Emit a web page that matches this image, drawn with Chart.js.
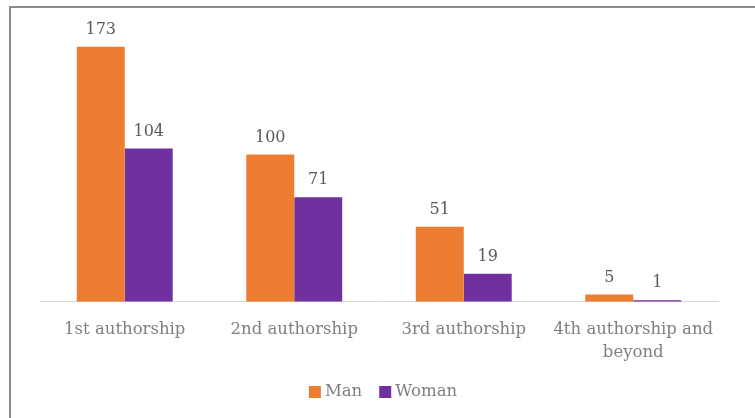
<!DOCTYPE html>
<html><head><meta charset="utf-8">
<script src="https://cdn.jsdelivr.net/npm/chart.js@4"></script>
<style>
html,body{margin:0;padding:0;background:#fff;}
#wrap{position:relative;width:755px;height:418px;overflow:hidden;}
#frame{position:absolute;left:9px;top:6px;width:800px;height:500px;border:2px solid #8a8a8a;box-sizing:border-box;}
canvas{position:absolute;left:0;top:0;}
</style></head><body>
<div id="wrap"><div id="frame"></div><canvas id="c" width="755" height="418"></canvas></div>
<script>
const categories = ["1st authorship", "2nd authorship", "3rd authorship", ["4th authorship and", "beyond"]];
const manValues = [173, 100, 51, 5];
const womanValues = [104, 71, 19, 1];
const seriesNames = ["Man", "Woman"];

const FONT = "'DejaVu Serif', 'Liberation Serif', serif";
const labelPlugin = {
  id: 'valLabels',
  afterDatasetsDraw(chart) {
    const ctx = chart.ctx;
    ctx.save();
    ctx.font = "16px " + FONT;
    ctx.fillStyle = "#595959";
    ctx.textAlign = "center";
    ctx.textBaseline = "bottom";
    chart.data.datasets.forEach((ds, i) => {
      const meta = chart.getDatasetMeta(i);
      meta.data.forEach((el, j) => {
        ctx.fillText(String(ds.data[j]), el.x, el.y - 9);
      });
    });
    ctx.restore();
  }
};

const legendPlugin = {
  id: 'customLegend',
  afterDraw(chart) {
    const ctx = chart.ctx;
    ctx.save();
    ctx.font = "16.5px " + FONT;
    ctx.textBaseline = "middle";
    const box = 12, gapText = 4, gapItem = 17;
    const items = chart.data.datasets.map(ds => ({label: ds.label, color: ds.backgroundColor, w: ctx.measureText(ds.label).width}));
    let total = 0;
    items.forEach((it, i) => { total += box + gapText + it.w + (i < items.length - 1 ? gapItem : 0); });
    const ca = chart.chartArea;
    let x = (ca.left + ca.right) / 2 + 4 - total / 2;
    const cy = 392;
    items.forEach(it => {
      ctx.fillStyle = it.color;
      ctx.fillRect(x, cy - 6, box, box);
      x += box + gapText;
      ctx.fillStyle = "#7F7F7F";
      ctx.textAlign = "left";
      ctx.fillText(it.label, x, cy);
      x += it.w + gapItem;
    });
    ctx.restore();
  }
};

new Chart(document.getElementById('c'), {
  type: 'bar',
  data: {
    labels: categories,
    datasets: [
      {label: seriesNames[0], data: manValues, backgroundColor: '#ED7D31', categoryPercentage: 0.566, barPercentage: 1},
      {label: seriesNames[1], data: womanValues, backgroundColor: '#7030A0', categoryPercentage: 0.566, barPercentage: 1}
    ]
  },
  options: {
    responsive: false,
    animation: false,
    layout: {padding: {left: 40, right: 37, top: 7, bottom: 38}},
    plugins: {
      legend: {display: false},
      tooltip: {enabled: false}
    },
    scales: {
      x: {
        grid: {display: false, drawTicks: false},
        border: {color: '#D9D9D9', width: 1},
        ticks: {font: {family: FONT, size: 16.5, lineHeight: 1.4}, color: '#7F7F7F', maxRotation: 0, autoSkip: false, padding: 16}
      },
      y: {display: false, min: 0, max: 200}
    }
  },
  plugins: [labelPlugin, legendPlugin]
});
</script></body></html>
